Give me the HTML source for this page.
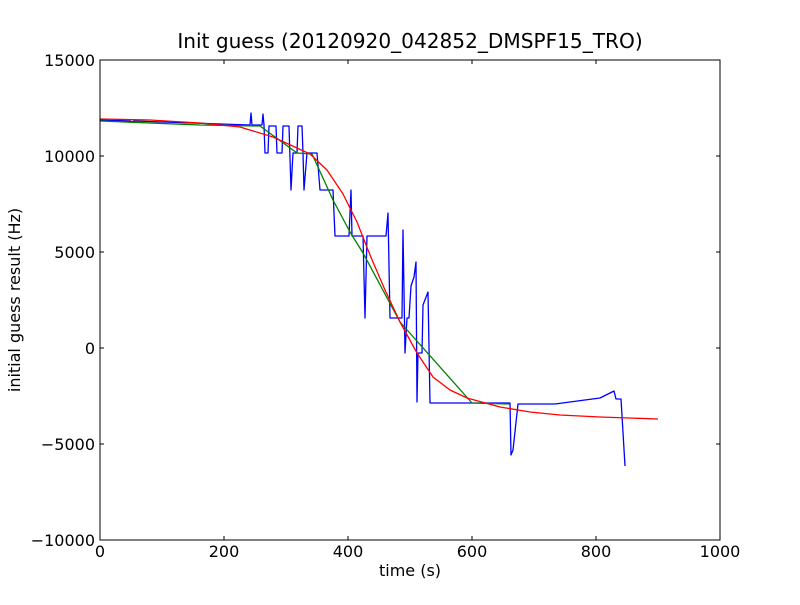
<!DOCTYPE html>
<html><head><meta charset="utf-8"><style>
html,body{margin:0;padding:0;background:#fff;}
svg text{font-family:"DejaVu Sans","Liberation Sans",sans-serif;fill:#000;}
</style></head><body>
<svg width="800" height="600" viewBox="0 0 800 600" xmlns="http://www.w3.org/2000/svg">
<rect width="800" height="600" fill="#fff"/>
<text x="410" y="48" font-size="20.1" text-anchor="middle">Init guess (20120920_042852_DMSPF15_TRO)</text>
<g fill="none" stroke-width="1.3" stroke-linejoin="round">
<polyline stroke="#0000ff" points="100,120 130,121 132,122 134,121 250,125 251,113 252,125 262,125 263,114 264,125 265,153 268,153 269,126 276,126 277,153 282,153 283,126 289,126 291,190 293,153 297,153 298,126 302,126 303,153 304,190 307,153 317,153 320,190 333,190 335,236 349,236 351,190 352,236 363,236 365,318 367,236 386,236 388,213 390,318 402,318 403,230 405,353 407,318 409,318 411,286 414,277 416,262 417,402 418,353 422,353 423,305 428,292 430,403 510,403 511,455 513,450 518,404 555,404 600,398 614,391 616,399 621,399 625,466"/>
<polyline stroke="#008000" points="100,121 200,125 260,126 297,153 312,154 333,200 350,232 363,253 400,322 472,403 510,404"/>
<polyline stroke="#ff0000" points="100,119 150,120 200,123 240,127 273,137 310,154 327,170 343,194 357,222 370,255 385,290 400,322 417,353 433,377 450,390 467,398 500,407 530,412 560,415 600,417 658,419"/>
</g>
<rect x="100" y="60" width="620" height="480" fill="none" stroke="#000" stroke-width="1"/>
<g stroke="#000" stroke-width="1">
<path d="M100,540v-4M224,540v-4M348,540v-4M472,540v-4M596,540v-4M720,540v-4M100,60v4M224,60v4M348,60v4M472,60v4M596,60v4M720,60v4"/>
<path d="M100,60h4M100,156h4M100,252h4M100,348h4M100,444h4M100,540h4M720,60h-4M720,156h-4M720,252h-4M720,348h-4M720,444h-4M720,540h-4"/>
</g>
<g font-size="16" text-anchor="middle">
<text x="100" y="557">0</text><text x="224" y="557">200</text><text x="348" y="557">400</text><text x="472" y="557">600</text><text x="596" y="557">800</text><text x="720" y="557">1000</text>
</g>
<g font-size="16" text-anchor="end">
<text x="95" y="66">15000</text><text x="95" y="162">10000</text><text x="95" y="258">5000</text><text x="95" y="354">0</text><text x="95" y="450">−5000</text><text x="95" y="546">−10000</text>
</g>
<text x="410" y="576" font-size="16" text-anchor="middle">time (s)</text>
<text x="20" y="300" font-size="16" text-anchor="middle" transform="rotate(-90 20 300)">initial guess result (Hz)</text>
</svg>
</body></html>
